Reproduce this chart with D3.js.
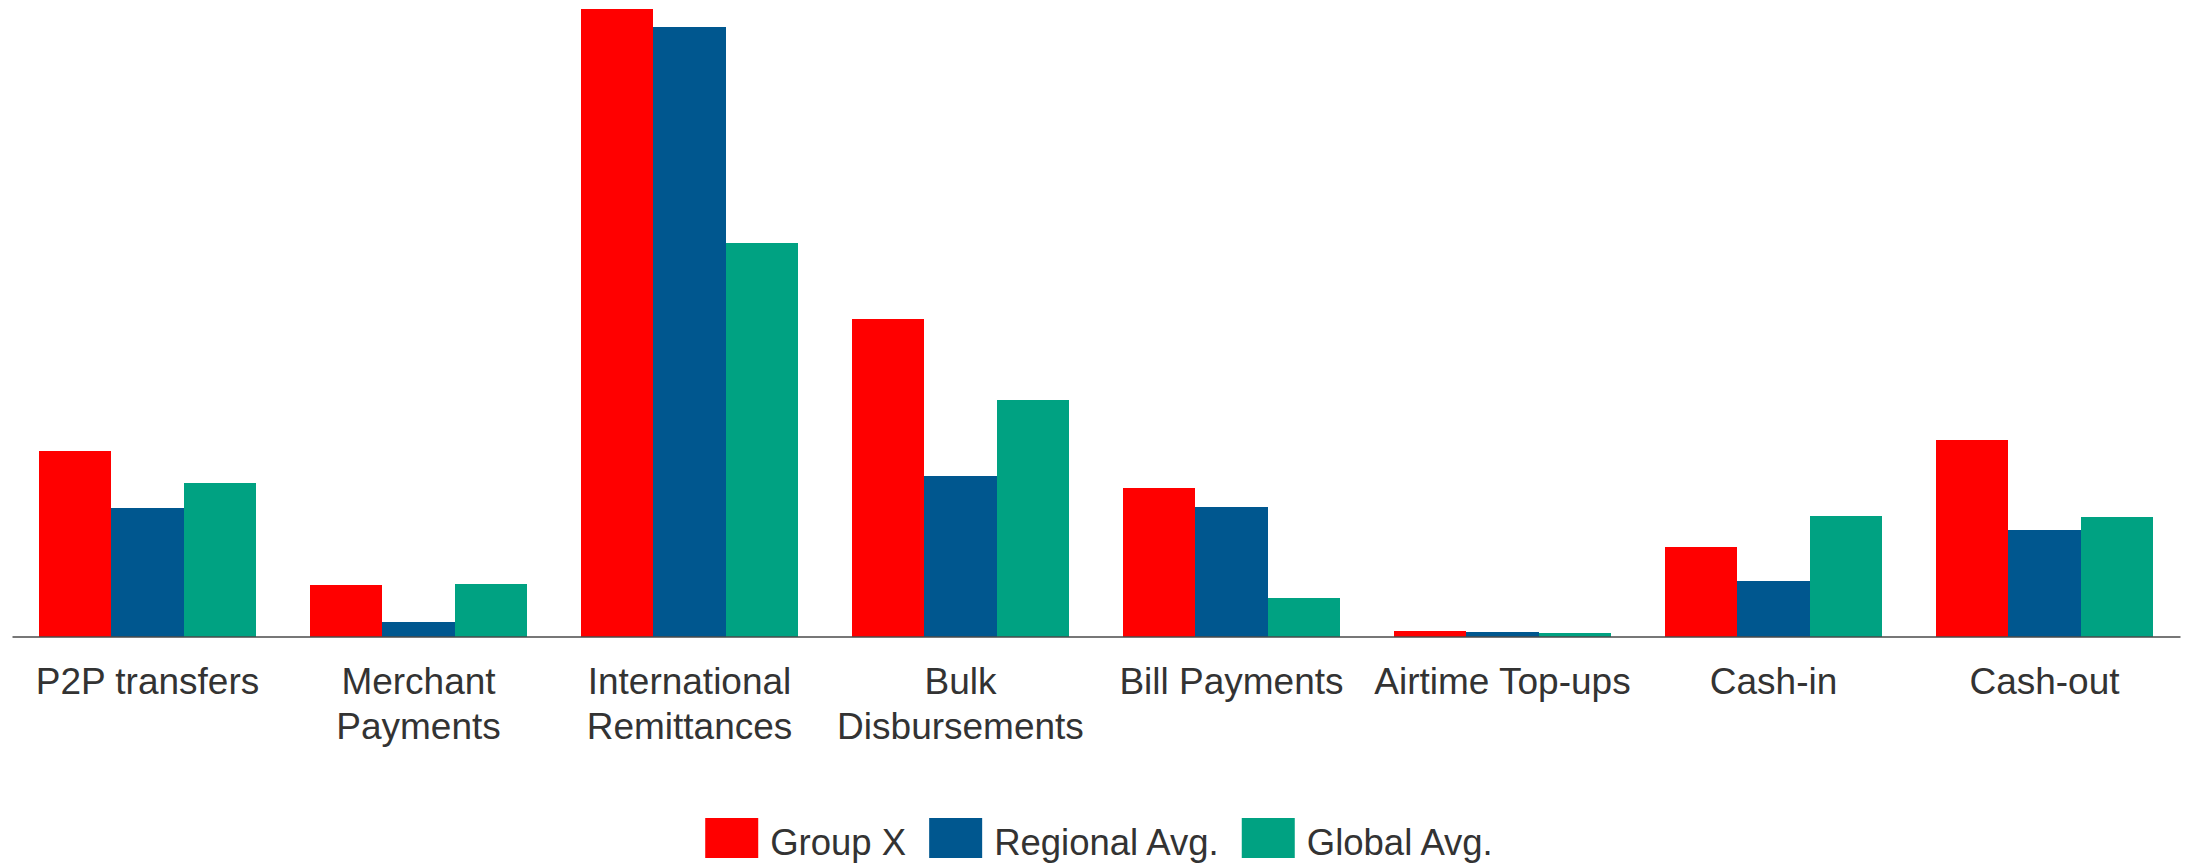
<!DOCTYPE html>
<html>
<head>
<meta charset="utf-8">
<script src="https://cdn.jsdelivr.net/npm/d3@7/dist/d3.min.js"></script>
<style>
  html, body { margin: 0; padding: 0; background: #ffffff; }
  svg { display: block; }
  text { font-family: "Liberation Sans", Arial, sans-serif; fill: #333333; }
</style>
</head>
<body>
<svg id="chart" width="2188" height="863"></svg>
<script>
// Transaction types (multi-line labels split on "\n")
const categories = [
  "P2P transfers",
  "Merchant\nPayments",
  "International\nRemittances",
  "Bulk\nDisbursements",
  "Bill Payments",
  "Airtime Top-ups",
  "Cash-in",
  "Cash-out"
];

const seriesNames = ["Group X", "Regional Avg.", "Global Avg."];
const seriesColors = ["#ff0000", "#00578f", "#00a282"];

// Index values (International Remittances for Group X = 100)
const groupX   = [29.5, 8.2, 100.0, 50.6, 23.7, 0.9, 14.3, 31.3];
const regional = [20.5, 2.3,  97.1, 25.6, 20.6, 0.7,  8.8, 17.0];
const global   = [24.5, 8.4,  62.7, 37.7,  6.1, 0.6, 19.2, 19.0];

const seriesValues = [groupX, regional, global];

const svg = d3.select("#chart");
const W = 2188;
const plot = { left: 12, right: 2180, top: 9, bottom: 636.5 };

const x0 = d3.scaleBand()
  .domain(categories)
  .range([plot.left, plot.right])
  .paddingInner(0.2)
  .paddingOuter(0.1);

const x1 = d3.scaleBand()
  .domain(seriesNames)
  .range([0, x0.bandwidth()])
  .padding(0);

const y = d3.scaleLinear()
  .domain([0, 100])
  .range([plot.bottom, plot.top]);

const color = d3.scaleOrdinal().domain(seriesNames).range(seriesColors);

// Grouped bars
const rows = categories.map((c, i) => ({
  category: c,
  values: seriesNames.map((s, k) => ({ series: s, value: seriesValues[k][i] }))
}));

const groups = svg.append("g")
  .selectAll("g")
  .data(rows)
  .join("g")
  .attr("transform", d => `translate(${x0(d.category)},0)`);

groups.selectAll("rect")
  .data(d => d.values)
  .join("rect")
  .attr("x", d => x1(d.series))
  .attr("width", x1.bandwidth())
  .attr("y", d => y(d.value))
  .attr("height", d => y(0) - y(d.value))
  .attr("fill", d => color(d.series))
  .attr("shape-rendering", "crispEdges");

// Baseline axis
const axis = svg.append("g")
  .attr("transform", `translate(0,${plot.bottom})`)
  .call(d3.axisBottom(x0).tickSize(0).tickSizeOuter(0).tickFormat(""));
axis.select(".domain")
  .attr("stroke", "#4a4a4a")
  .attr("stroke-width", 1.6);
axis.selectAll(".tick text").remove();

// Category labels
const fontSize = 37;
const lineGap = 45;
const labels = svg.append("g")
  .selectAll("text")
  .data(categories)
  .join("text")
  .attr("x", d => x0(d) + x0.bandwidth() / 2)
  .attr("y", plot.bottom + 57)
  .attr("text-anchor", "middle")
  .style("font-size", fontSize + "px");

labels.selectAll("tspan")
  .data(d => d.split("\n"))
  .join("tspan")
  .attr("x", function () { return d3.select(this.parentNode).attr("x"); })
  .attr("dy", (d, i) => i === 0 ? 0 : lineGap)
  .text(d => d);

// Legend
const legend = svg.append("g");
const swW = 53, swH = 40, swGap = 12, itemGap = 23;
const legendY = 818;
const items = legend.selectAll("g")
  .data(seriesNames)
  .join("g");

items.append("rect")
  .attr("width", swW)
  .attr("height", swH)
  .attr("y", legendY)
  .attr("fill", d => color(d));

items.append("text")
  .attr("y", legendY + 37)
  .style("font-size", "36.5px")
  .text(d => d);

let cursor = 0;
const offsets = [];
items.each(function () {
  const tw = d3.select(this).select("text").node().getComputedTextLength();
  offsets.push(cursor);
  cursor += swW + swGap + tw + itemGap;
});
const totalW = cursor - itemGap;
const startX = 1099 - totalW / 2;
items.each(function (d, i) {
  const g = d3.select(this);
  g.select("rect").attr("x", startX + offsets[i]);
  g.select("text").attr("x", startX + offsets[i] + swW + swGap);
});
</script>
</body>
</html>
